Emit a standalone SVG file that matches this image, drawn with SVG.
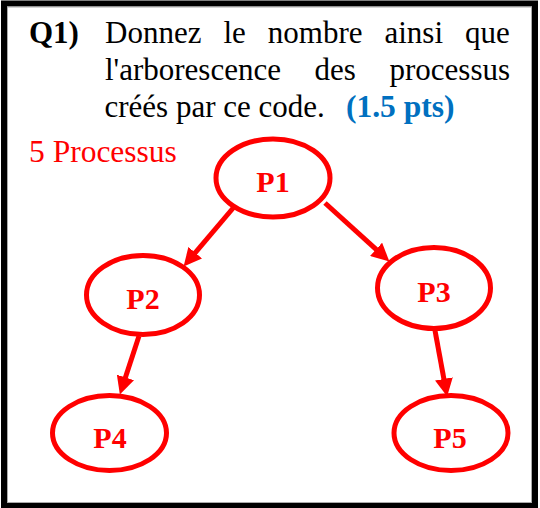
<svg xmlns="http://www.w3.org/2000/svg" width="540" height="508" viewBox="0 0 540 508">
<style>
text{font-family:"Liberation Serif","Times New Roman",serif}
.t{font-size:31px;fill:#000}
.b{font-weight:bold}
.blue{fill:#0070c0;font-weight:bold;font-size:31.5px}
.red{fill:#ff0000;font-size:31.5px}
.node ellipse{fill:#fff;stroke:#ff0000;stroke-width:5}
.node text{font-size:30px;font-weight:bold;fill:#ff0000;text-anchor:middle}
.edge{stroke:#ff0000;stroke-width:5;fill:none;marker-end:url(#ah)}
</style>
<defs>
<marker id="ah" viewBox="0 0 10 10" refX="4" refY="5" markerWidth="3.6" markerHeight="3.6" orient="auto" markerUnits="strokeWidth">
<path d="M0,0 L10,5 L0,10 z" fill="#ff0000"/>
</marker>
</defs>
<rect x="0" y="0" width="540" height="508" fill="#fff"/>
<rect x="4" y="3.5" width="531" height="502.5" fill="none" stroke="#000" stroke-width="6"/>
<rect x="7.5" y="7" width="524" height="495.5" fill="none" stroke="#aaa" stroke-width="1"/>
<g id="question">
<text class="t b" x="29" y="43">Q1)</text>
<text class="t" y="43"><tspan x="105">Donnez</tspan><tspan x="223.4">le</tspan><tspan x="267.8">nombre</tspan><tspan x="384.5">ainsi</tspan><tspan x="465.1">que</tspan></text>
<text class="t" y="80"><tspan x="105">l'arborescence</tspan><tspan x="314.6">des</tspan><tspan x="389.5">processus</tspan></text>
<text class="t" y="116.5"><tspan x="104.5">créés par ce code.</tspan><tspan class="blue" x="346">(1.5 pts)</tspan></text>
<text class="t red" x="29" y="162">5 Processus</text>
</g>
<g id="connectors">
<line class="edge" x1="234" y1="207" x2="190.6" y2="258.2"/>
<line class="edge" x1="325" y1="203" x2="381.4" y2="254.2"/>
<line class="edge" x1="139" y1="336" x2="123.2" y2="384.3"/>
<line class="edge" x1="434" y1="325" x2="445.2" y2="386"/>
</g>
<g id="P1" class="node"><ellipse cx="273" cy="178" rx="57" ry="39"/><text x="273" y="191.5">P1</text></g>
<g id="P2" class="node"><ellipse cx="143" cy="295" rx="56.5" ry="39.5"/><text x="143" y="309">P2</text></g>
<g id="P3" class="node"><ellipse cx="434" cy="288" rx="56.5" ry="40.5"/><text x="434" y="301.5">P3</text></g>
<g id="P4" class="node"><ellipse cx="109.5" cy="433" rx="57" ry="37.5"/><text x="110" y="448">P4</text></g>
<g id="P5" class="node"><ellipse cx="451" cy="433" rx="57" ry="37.5"/><text x="450" y="448">P5</text></g>
</svg>
